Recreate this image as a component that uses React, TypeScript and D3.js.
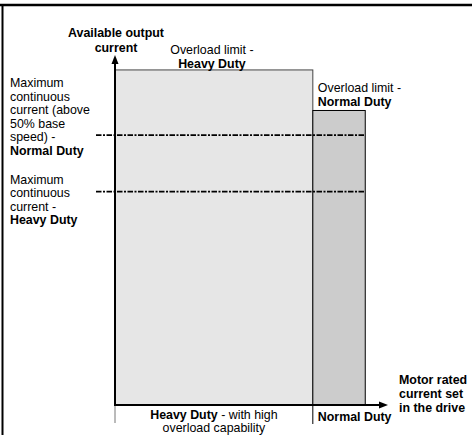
import * as d3 from "d3";

// duty ratings (x: motor rated current, y: available output current, same relative units)
const categories = ["Heavy Duty", "Normal Duty"];
const ratedCurrent = [100, 126.5];
const overloadLimit = [157, 138];
const maxContinuous = [100, 126.5];
const fills = ["#e6e6e6", "#cccccc"];

const xMax = 138;
const yMax = 164;

const W = 472;
const H = 435;
const font = "'Liberation Sans', Arial, Helvetica, sans-serif";

export default function App() {
  const x = d3.scaleLinear().domain([0, xMax]).range([115, 388]);
  const y = d3.scaleLinear().domain([0, yMax]).range([405, 55]);

  const x0 = x(0);
  const y0 = y(0);
  const starts = ratedCurrent.map((_, i) => (i === 0 ? 0 : ratedCurrent[i - 1]));

  const line = d3.line<[number, number]>();

  const leftBlocks = [
    {
      y: 87,
      lines: ["Maximum", "continuous", "current (above", "50% base", "speed) -"],
      bold: "Normal Duty",
    },
    { y: 183.5, lines: ["Maximum", "continuous", "current -"], bold: "Heavy Duty" },
  ];

  return (
    <svg
      width={W}
      height={H}
      style={{ position: "absolute", left: 0, top: 0, background: "#fff" }}
      fontFamily={font}
      fontSize={12.4}
    >
      {/* frame */}
      <line x1={0} x2={W} y1={5} y2={5} stroke="#000" strokeWidth={2.5} />
      <line x1={2.5} x2={2.5} y1={4} y2={H} stroke="#000" strokeWidth={2} />

      {/* duty bars */}
      {categories.map((c, i) => (
        <rect
          key={c}
          x={x(starts[i])}
          y={y(overloadLimit[i])}
          width={x(ratedCurrent[i]) - x(starts[i])}
          height={y0 - y(overloadLimit[i])}
          fill={fills[i]}
          stroke={i === 0 ? "#444" : "#000"}
          strokeWidth={1}
        />
      ))}

      {/* maximum continuous current lines */}
      {maxContinuous.map((v) => (
        <line
          key={v}
          x1={x0 - 19}
          x2={x(ratedCurrent[1])}
          y1={y(v)}
          y2={y(v)}
          stroke="#000"
          strokeWidth={1.8}
          strokeDasharray="5.5,1.5,2,1.5"
        />
      ))}

      {/* axes */}
      <path d={line([[x0, y0], [x0, y(yMax) + 7]])!} stroke="#000" strokeWidth={2} />
      <path
        d={`M${x0},${y(yMax)} L${x0 - 3.5},${y(yMax) + 9} L${x0 + 3.5},${y(yMax) + 9} Z`}
        fill="#000"
      />
      <path d={line([[x0 - 1, y0], [x(xMax) - 7, y0]])!} stroke="#000" strokeWidth={2} />
      <path
        d={`M${x(xMax)},${y0} L${x(xMax) - 9},${y0 - 3.5} L${x(xMax) - 9},${y0 + 3.5} Z`}
        fill="#000"
      />
      <line x1={x0} x2={x0} y1={y0 + 1} y2={y0 + 18} stroke="#777" strokeWidth={1} />
      <line
        x1={x(ratedCurrent[0])}
        x2={x(ratedCurrent[0])}
        y1={y0}
        y2={y0 + 19}
        stroke="#000"
        strokeWidth={1}
      />

      {/* axis titles */}
      <text x={x0 + 1} y={37} textAnchor="middle" fontWeight="bold">
        <tspan x={x0 + 1}>Available output</tspan>
        <tspan x={x0 + 1} dy={15}>current</tspan>
      </text>
      <text x={399} y={384} fontWeight="bold">
        <tspan x={399}>Motor rated</tspan>
        <tspan x={399} dy={14}>current set</tspan>
        <tspan x={399} dy={14}>in the drive</tspan>
      </text>

      {/* overload labels */}
      <text y={54} textAnchor="middle">
        <tspan x={(x0 + x(ratedCurrent[0])) / 2 - 2}>Overload limit -</tspan>
        <tspan x={(x0 + x(ratedCurrent[0])) / 2 - 2} dy={13.5} fontWeight="bold">
          {categories[0]}
        </tspan>
      </text>
      <text y={92}>
        <tspan x={x(ratedCurrent[0]) + 5}>Overload limit -</tspan>
        <tspan x={x(ratedCurrent[0]) + 5} dy={13.5} fontWeight="bold">
          {categories[1]}
        </tspan>
      </text>

      {/* continuous current labels */}
      {leftBlocks.map((b, bi) => (
        <text key={bi} y={b.y}>
          {b.lines.map((l, i) => (
            <tspan key={i} x={10} dy={i === 0 ? 0 : 13.5}>
              {l}
            </tspan>
          ))}
          <tspan x={10} dy={13.5} fontWeight="bold">
            {b.bold}
          </tspan>
        </text>
      ))}

      {/* duty range labels */}
      <text y={419} textAnchor="middle">
        <tspan x={(x0 + x(ratedCurrent[0])) / 2}>
          <tspan fontWeight="bold">{categories[0]}</tspan> - with high
        </tspan>
        <tspan x={(x0 + x(ratedCurrent[0])) / 2} dy={13}>
          overload capability
        </tspan>
      </text>
      <text x={x(ratedCurrent[0]) + 5} y={421} fontWeight="bold">
        {categories[1]}
      </text>
    </svg>
  );
}
